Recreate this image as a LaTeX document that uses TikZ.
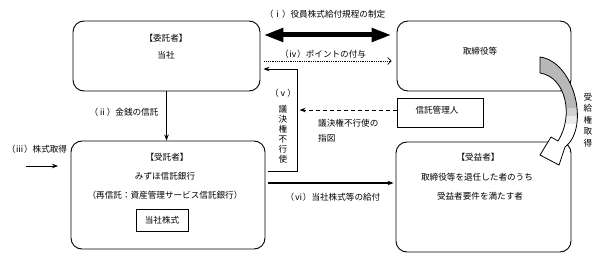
\documentclass[tikz,border=0pt]{standalone}
\usepackage{fontspec}
\setmainfont{Noto Sans CJK JP}
\usetikzlibrary{arrows.meta}
\begin{document}
\begin{tikzpicture}[x=1pt,y=-1pt,
  font=\fontsize{8.6}{10}\selectfont,
  bigbox/.style={draw, line width=0.9pt, rounded corners=11pt},
  plainbox/.style={draw, line width=0.9pt},
  txt/.style={inner sep=0pt},
  arr/.style={line width=0.8pt, -{Stealth[length=6pt,width=4.5pt]}},
  thickarr/.style={line width=5pt, {Triangle[length=20pt,width=13pt]}-{Triangle[length=20pt,width=13pt]}},
  dotarr/.style={line width=0.7pt, dash pattern=on 0.9pt off 0.9pt, -{Straight Barb[length=3.5pt,width=7pt]}},
  dasharr/.style={line width=0.9pt, dash pattern=on 4pt off 3pt, -{Stealth[length=6pt,width=4.5pt]}},
  vtext/.style={inner sep=0pt, align=center}
]
\useasboundingbox (0,0) rectangle (600,254);

% boxes
\node[bigbox, minimum width=187pt, minimum height=70pt] (itaku) at (166.5,56) {};
\node[bigbox, minimum width=174pt, minimum height=70pt] (tori) at (484,56) {};
\node[bigbox, minimum width=194pt, minimum height=108pt] (jutaku) at (168,195) {};
\node[bigbox, minimum width=175pt, minimum height=110pt] (jueki) at (483.5,197) {};
\node[plainbox, minimum width=86pt, minimum height=29pt] (kanri) at (440,113) {};
\node[plainbox, minimum width=52pt, minimum height=22pt, txt] (kabu) at (162,220) {当社株式};

% texts in boxes
\node[txt] (t1) at (166,38) {【委託者】};
\node[txt] (t2) at (166,55) {当社};
\node[txt] (t3) at (480,51) {取締役等};
\node[txt] (t4) at (167,157) {【受託者】};
\node[txt] (t5) at (165,176) {みずほ信託銀行};
\node[txt] (t6) at (165,195) {（再信託：資産管理サービス信託銀行）};
\node[txt] (t7) at (478,157) {【受益者】};
\node[txt] (t8) at (477,177) {取締役等を退任した者のうち};
\node[txt] (t9) at (480,196) {受益者要件を満たす者};
\node[txt] (t10) at (437,110) {信託管理人};

% connectors
\draw[thickarr] ([xshift=3pt,yshift=21pt]itaku.east) -- ([xshift=-5pt,yshift=21pt]tori.west);
\draw[dotarr] ([xshift=4pt,yshift=-5pt]itaku.east) -- ([xshift=-5pt,yshift=-5pt]tori.west);
\draw[arr] ([xshift=3pt,yshift=24pt]jutaku.east) -- ++(29,0) |- ([xshift=3pt,yshift=-13pt]itaku.east);
\draw[dasharr] ([yshift=3pt]kanri.west) -- ++(-97,0);
\draw[arr] (itaku.south) -- (itaku.south |- jutaku.north);
\draw[arr, line width=1.1pt] ([xshift=3pt,yshift=12pt]jutaku.east) -- ([xshift=-2pt,yshift=14pt]jueki.west);
\coordinate (s3) at (26,166);
\coordinate (e3) at (58,166);
\draw[arr] (s3) -- (e3);

% labels
\node[txt] (l1) at (325,14) {（ⅰ）役員株式給付規程の制定};
\node[txt] (l4) at (323,54) {（ⅳ）ポイントの付与};
\node[txt] (l5) at (283,93) {（ⅴ）};
\node[vtext, font=\fontsize{8.6}{9.9}\selectfont] (l5v) at (283,134) {議\\決\\権\\不\\行\\使};
\node[txt, anchor=west] (l5a) at (318,123) {議決権不行使の};
\node[txt, anchor=west] (l5b) at (318,138) {指図};
\node[txt] (l2) at (124,112) {（ⅱ）金銭の信託};
\node[txt] (l3) at (37,149) {（ⅲ）株式取得};
\node[txt] (l6) at (333,197) {（ⅵ）当社株式等の給付};
\node[vtext, font=\fontsize{8.6}{11.5}\selectfont] (lr) at (588,120) {受\\給\\権\\取\\得};

% curved arrow: gray upper part, white head
\def\curvedarrow{(540,57) .. controls (575,62) and (590,128) .. (565,147)
  -- (559,165) -- (540,155) -- (551,137) -- (558,141)
  .. controls (574,116) and (566,77) .. (540,73) -- cycle}
\fill[white] \curvedarrow;
\begin{scope}
  \clip \curvedarrow;
  \fill[black!28] (530,50) rectangle (600,108);
  \fill[black!18] (530,108) rectangle (600,116);
  \fill[black!8] (530,116) rectangle (600,124);
\end{scope}
\draw[line width=0.8pt, line join=round] \curvedarrow;
\end{tikzpicture}
\end{document}
